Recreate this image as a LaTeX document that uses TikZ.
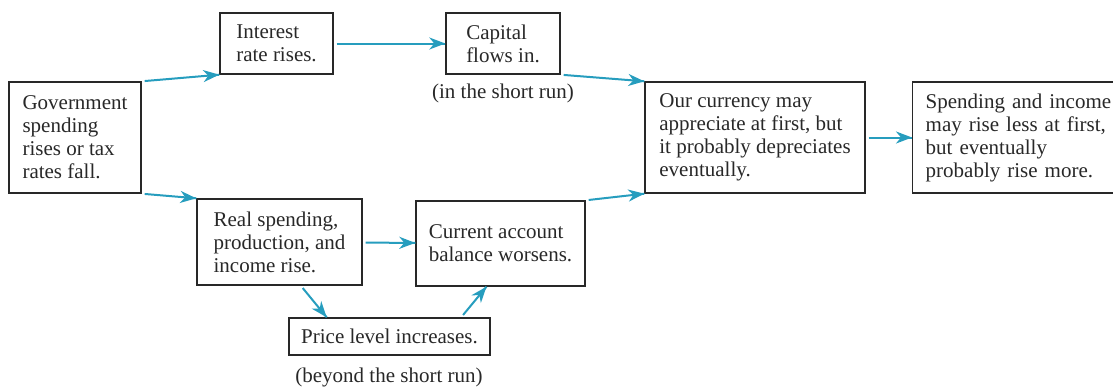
\documentclass[tikz,border=0pt]{standalone}
\usepackage{fontspec}
\setmainfont{Liberation Serif}
\usepackage{tikz}
\usetikzlibrary{arrows.meta,decorations.markings}
\definecolor{flowblue}{RGB}{38,157,190}
\definecolor{inkgray}{RGB}{40,40,40}
\tikzstyle{box}=[draw=inkgray, text=inkgray, line width=0.7pt, align=left, inner sep=0pt,
    font=\fontsize{10.5}{11.5}\selectfont]
\tikzstyle{note}=[text=inkgray, inner sep=0pt, font=\fontsize{10.5}{11.5}\selectfont]

\begin{document}
\begin{tikzpicture}[x=0.5pt, y=-0.5pt,
    every edge/.style={
        draw=flowblue, line width=1pt, shorten <=1.5pt,
        postaction={decorate,
                    decoration={markings,mark=at position 1 with {\arrow[fill=flowblue]{Stealth[length=8pt,width=6pt,inset=2.5pt]}}}
                   }
        }
]
\useasboundingbox (0,0) rectangle (1113,386);
\node[box, minimum width=66pt, minimum height=55.5pt] (gov) at (75,137.5)
    {Government\\spending\\rises or tax\\rates fall.};
\node[box, minimum width=56.5pt, minimum height=30.5pt] (rate) at (276.5,43.5)
    {Interest\\rate rises.};
\node[box, minimum width=57pt, minimum height=30.5pt] (capital) at (503,43.5)
    {Capital\\flows in.};
\node[note] (shortrun) at (503,93) {(in the short run)};
\node[box, minimum width=82.5pt, minimum height=43pt] (real) at (279.5,242)
    {Real spending,\\production, and\\income rise.};
\node[box, minimum width=84.5pt, minimum height=42.5pt] (current) at (500.5,243.5)
    {Current account\\balance worsens.};
\node[box, minimum width=100.5pt, minimum height=18.5pt] (price) at (389.5,336.5)
    {Price level increases.};
\node[note] (beyond) at (389,377) {(beyond the short run)};
\node[box, minimum width=110pt, minimum height=55.5pt] (currency) at (755,137.5)
    {Our currency may\\appreciate at first, but\\it probably depreciates\\eventually.};
\node[box, text width=95pt, inner xsep=6.5pt, minimum height=55.5pt, anchor=west] (outcome) at (912,137.5)
    {Spending and income\\may rise less at first,\\but eventually\\probably rise more.};
\path
(gov.north east) edge (rate.south west)
(rate) edge (capital)
(capital.south east) edge (currency.north west)
(gov.south east) edge (real.north west)
(real) edge (current)
(real.-64) edge (price.163)
(price.15) edge (current.-108)
(current.north east) edge (currency.south west)
(currency) edge (outcome)
;
\end{tikzpicture}
\end{document}
